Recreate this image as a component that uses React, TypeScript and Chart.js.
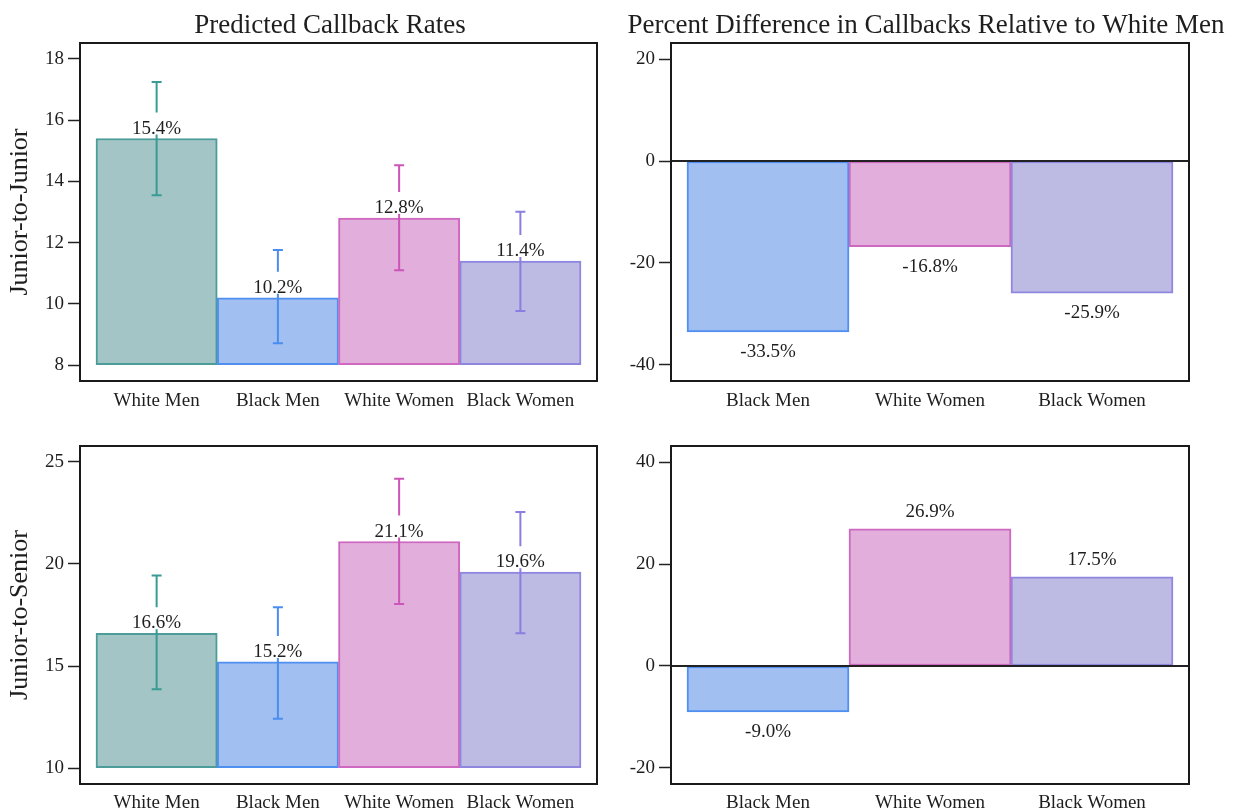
import React, { useEffect, useRef } from "react";
import { Chart, registerables } from "chart.js";

Chart.register(...registerables);

// ---------- data ----------
const groupsAll = ["White Men", "Black Men", "White Women", "Black Women"];
const groupsDiff = ["Black Men", "White Women", "Black Women"];

const jjRates = [15.4, 10.2, 12.8, 11.4];
const jjLower = [13.55, 8.71, 11.1, 9.77];
const jjUpper = [17.25, 11.76, 14.53, 13.01];

const jsRates = [16.6, 15.2, 21.1, 19.6];
const jsLower = [13.86, 12.42, 18.04, 16.6];
const jsUpper = [19.43, 17.88, 24.17, 22.55];

const jjDiff = [-33.5, -16.8, -25.9];
const jsDiff = [-9.0, 26.9, 17.5];

const jjRateTicks = [8, 10, 12, 14, 16, 18];
const jsRateTicks = [10, 15, 20, 25];
const jjDiffTicks = [-40, -20, 0, 20];
const jsDiffTicks = [-20, 0, 20, 40];

const colTitles = ["Predicted Callback Rates", "Percent Difference in Callbacks Relative to White Men"];
const rowTitles = ["Junior-to-Junior", "Junior-to-Senior"];

// ---------- styles ----------
const FONT = '"Liberation Serif", "Times New Roman", serif';
const TEXT = "#1e1e1e";
const fillColors: Record<string, string> = {
  "White Men": "#a3c5c5",
  "Black Men": "#a2bff2",
  "White Women": "#e2aedb",
  "Black Women": "#bdbbe3",
};
const borderColors: Record<string, string> = {
  "White Men": "#4c9c99",
  "Black Men": "#4f8ff0",
  "White Women": "#cf68c0",
  "Black Women": "#8f86e0",
};
const errColors: Record<string, string> = {
  "White Men": "#3a9a95",
  "Black Men": "#4a8cf0",
  "White Women": "#cc55b8",
  "Black Women": "#8a7ee0",
};

type Panel = {
  key: string;
  left: number;
  top: number;
  width: number;
  height: number;
  yAxisW: number;
  xAxisH: number;
  padTop: number;
  padRight: number;
  xLabelPad: number;
  cats: string[];
  values: number[];
  lower?: number[];
  upper?: number[];
  ticks: number[];
  ymin: number;
  ymax: number;
  base: number;
  title?: string;
  titleX?: number;
  rowTitle?: string;
  gapPos: number;
  gapNeg: number;
  zeroLine: boolean;
};

const panels: Panel[] = [
  {
    key: "tl", left: 0, top: 0, width: 620, height: 415, yAxisW: 80, xAxisH: 34, padTop: 43, padRight: 23, xLabelPad: 1,
    cats: groupsAll, values: jjRates, lower: jjLower, upper: jjUpper, ticks: jjRateTicks,
    ymin: 7.48, ymax: 18.52, base: 8, title: colTitles[0], titleX: 330, rowTitle: rowTitles[0],
    gapPos: 5, gapNeg: 12, zeroLine: false,
  },
  {
    key: "tr", left: 620, top: 0, width: 619, height: 415, yAxisW: 51, xAxisH: 34, padTop: 43, padRight: 50, xLabelPad: 1,
    cats: groupsDiff, values: jjDiff, ticks: jjDiffTicks,
    ymin: -43.14, ymax: 23.14, base: 0, title: colTitles[1], titleX: 306,
    gapPos: 12, gapNeg: 12, zeroLine: true,
  },
  {
    key: "bl", left: 0, top: 415, width: 620, height: 395, yAxisW: 80, xAxisH: 26, padTop: 31, padRight: 23, xLabelPad: 0,
    cats: groupsAll, values: jsRates, lower: jsLower, upper: jsUpper, ticks: jsRateTicks,
    ymin: 9.22, ymax: 25.78, base: 10, rowTitle: rowTitles[1],
    gapPos: 5, gapNeg: 12, zeroLine: false,
  },
  {
    key: "br", left: 620, top: 415, width: 619, height: 395, yAxisW: 51, xAxisH: 26, padTop: 31, padRight: 50, xLabelPad: 0,
    cats: groupsDiff, values: jsDiff, ticks: jsDiffTicks,
    ymin: -23.14, ymax: 43.14, base: 0,
    gapPos: 12, gapNeg: 12, zeroLine: true,
  },
];

const EDGE_GAP = 16;

function makeOverlay(p: Panel) {
  return {
    id: "overlay_" + p.key,
    afterDatasetsDraw(chart: any) {
      const { ctx, chartArea: a, scales } = chart;
      const x = scales.x;
      const y = scales.y;
      ctx.save();
      if (p.zeroLine) {
        const y0 = y.getPixelForValue(0);
        ctx.strokeStyle = "#222";
        ctx.lineWidth = 2;
        ctx.beginPath();
        ctx.moveTo(a.left, y0);
        ctx.lineTo(a.right, y0);
        ctx.stroke();
      }
      ctx.font = `19px ${FONT}`;
      ctx.textAlign = "center";
      ctx.textBaseline = "alphabetic";
      p.values.forEach((v, i) => {
        const cx = x.getPixelForValue(i);
        const yv = y.getPixelForValue(v);
        const text = `${v.toFixed(1)}%`;
        if (p.lower && p.upper) {
          const yu = y.getPixelForValue(p.upper[i]);
          const yl = y.getPixelForValue(p.lower[i]);
          const gapTop = yv - p.gapPos - 21;
          const gapBot = yv - 4;
          ctx.strokeStyle = errColors[p.cats[i]];
          ctx.lineWidth = 2;
          ctx.beginPath();
          ctx.moveTo(cx, yu);
          ctx.lineTo(cx, Math.max(yu, gapTop));
          ctx.moveTo(cx, Math.min(yl, gapBot));
          ctx.lineTo(cx, yl);
          ctx.moveTo(cx - 5, yu);
          ctx.lineTo(cx + 5, yu);
          ctx.moveTo(cx - 5, yl);
          ctx.lineTo(cx + 5, yl);
          ctx.stroke();
        }
        ctx.fillStyle = TEXT;
        if (v >= p.base) {
          ctx.fillText(text, cx, yv - p.gapPos);
        } else {
          ctx.fillText(text, cx, yv + p.gapNeg + 13);
        }
      });
      ctx.strokeStyle = "#1a1a1a";
      ctx.lineWidth = 2;
      ctx.strokeRect(a.left, a.top, a.right - a.left, a.bottom - a.top);
      ctx.restore();
    },
    afterDraw(chart: any) {
      if (!p.title) return;
      const { ctx } = chart;
      ctx.save();
      ctx.font = `27px ${FONT}`;
      ctx.fillStyle = TEXT;
      ctx.textAlign = "center";
      ctx.textBaseline = "alphabetic";
      ctx.fillText(p.title, p.titleX, 33);
      ctx.restore();
    },
  };
}

function PanelChart({ p }: { p: Panel }) {
  const ref = useRef<HTMLCanvasElement | null>(null);
  useEffect(() => {
    if (!ref.current) return;
    const n = p.cats.length;
    const areaW = p.width - p.yAxisW - p.padRight;
    const unitPx = (areaW - 2 * EDGE_GAP) / n;
    const g = EDGE_GAP / unitPx;
    const chart = new Chart(ref.current, {
      type: "bar",
      data: {
        datasets: [
          {
            data: p.values.map((v, i) => ({ x: i, y: v })),
            base: p.base,
            backgroundColor: p.cats.map((c) => fillColors[c]),
            borderColor: p.cats.map((c) => borderColors[c]),
            borderWidth: 2,
            borderSkipped: false,
            barPercentage: 1,
            categoryPercentage: 1,
          } as any,
        ],
      },
      options: {
        animation: false,
        responsive: false,
        devicePixelRatio: 1,
        layout: { padding: { left: 0, top: p.padTop, right: p.padRight, bottom: 0 } },
        plugins: { legend: { display: false }, tooltip: { enabled: false }, title: { display: false } },
        scales: {
          x: {
            type: "linear",
            min: -0.5 - g,
            max: n - 0.5 + g,
            offset: false,
            afterBuildTicks: (ax: any) => {
              ax.ticks = p.cats.map((_, i) => ({ value: i }));
            },
            afterFit: (ax: any) => {
              ax.height = p.xAxisH;
            },
            grid: { display: false, offset: false },
            border: { display: false },
            ticks: {
              autoSkip: false,
              maxRotation: 0,
              padding: p.xLabelPad,
              color: TEXT,
              font: { family: FONT, size: 19 },
              callback: (v: any) => p.cats[v] ?? "",
            },
          },
          y: {
            type: "linear",
            min: p.ymin,
            max: p.ymax,
            afterBuildTicks: (ax: any) => {
              ax.ticks = p.ticks.map((v) => ({ value: v }));
            },
            afterFit: (ax: any) => {
              ax.width = p.yAxisW;
            },
            grid: { drawOnChartArea: false, drawTicks: true, tickLength: 12, tickColor: "#222", tickWidth: 1.5 },
            border: { display: false },
            ticks: { padding: 4, color: TEXT, font: { family: FONT, size: 19 } },
            title: p.rowTitle
              ? { display: true, text: p.rowTitle, color: TEXT, font: { family: FONT, size: 26 }, padding: { top: 5, bottom: 0 } }
              : { display: false },
          },
        },
      } as any,
      plugins: [makeOverlay(p)],
    });
    return () => chart.destroy();
  }, [p]);
  return (
    <canvas
      ref={ref}
      width={p.width}
      height={p.height}
      style={{ position: "absolute", left: p.left, top: p.top, width: p.width, height: p.height }}
    />
  );
}

export default function App() {
  return (
    <div style={{ position: "absolute", left: 0, top: 0, width: 1239, height: 810, background: "#fff" }}>
      {panels.map((p) => (
        <PanelChart key={p.key} p={p} />
      ))}
    </div>
  );
}
